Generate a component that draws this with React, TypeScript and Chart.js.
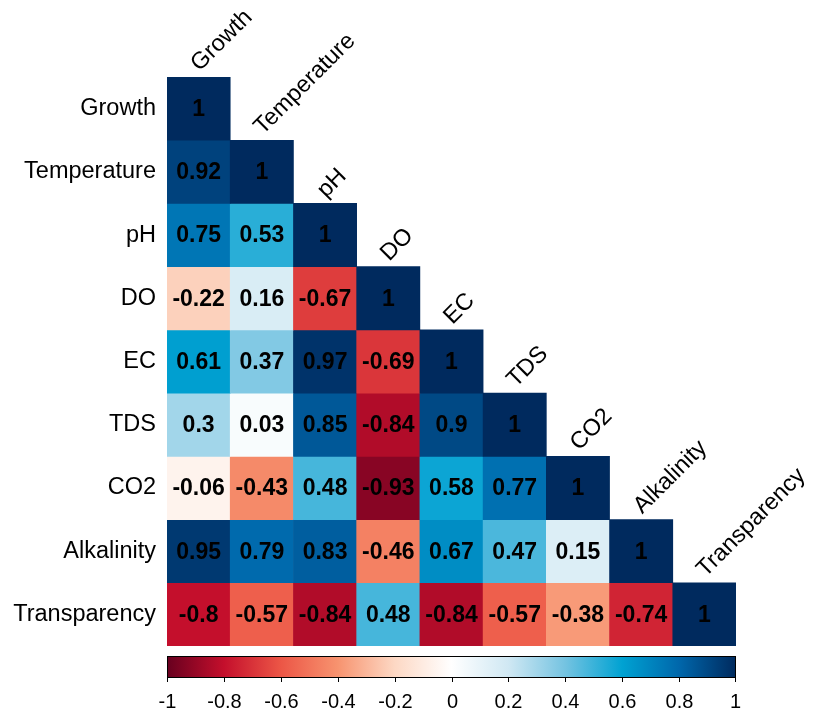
import React, { useEffect, useRef } from "react";
import { Chart, registerables } from "chart.js";

Chart.register(...registerables);

const variables = ["Growth", "Temperature", "pH", "DO", "EC", "TDS", "CO2", "Alkalinity", "Transparency"];

const rowGrowth = [1];
const rowTemperature = [0.92, 1];
const rowPH = [0.75, 0.53, 1];
const rowDO = [-0.22, 0.16, -0.67, 1];
const rowEC = [0.61, 0.37, 0.97, -0.69, 1];
const rowTDS = [0.3, 0.03, 0.85, -0.84, 0.9, 1];
const rowCO2 = [-0.06, -0.43, 0.48, -0.93, 0.58, 0.77, 1];
const rowAlkalinity = [0.95, 0.79, 0.83, -0.46, 0.67, 0.47, 0.15, 1];
const rowTransparency = [-0.8, -0.57, -0.84, 0.48, -0.84, -0.57, -0.38, -0.74, 1];

const corrRows = [rowGrowth, rowTemperature, rowPH, rowDO, rowEC, rowTDS, rowCO2, rowAlkalinity, rowTransparency];

const colorbarTicks = [-1, -0.8, -0.6, -0.4, -0.2, 0, 0.2, 0.4, 0.6, 0.8, 1];

const paletteStops = ["#67001F", "#C40F2C", "#EC5646", "#F7936F", "#FDD8C4", "#FFFFFF", "#D0E8F3", "#74C3E1", "#00A2D2", "#0067AB", "#002A5E"];

function hexToRgb(h: string) {
  const n = parseInt(h.slice(1), 16);
  return [(n >> 16) & 255, (n >> 8) & 255, n & 255];
}

function colorFor(v: number) {
  const t = Math.max(0, Math.min(1, (v + 1) / 2)) * (paletteStops.length - 1);
  const i = Math.min(paletteStops.length - 2, Math.floor(t));
  const f = t - i;
  const a = hexToRgb(paletteStops[i]);
  const b = hexToRgb(paletteStops[i + 1]);
  const c = a.map((x, k) => Math.round(x + (b[k] - x) * f));
  return `rgb(${c[0]},${c[1]},${c[2]})`;
}

const FONT = '"Liberation Sans", Arial, sans-serif';

const labelPlugin = {
  id: "corrLabels",
  afterDatasetsDraw(chart: any) {
    const ctx = chart.ctx;
    const xs = chart.scales.x;
    const ys = chart.scales.y;
    ctx.save();
    // cell values
    ctx.fillStyle = "#000";
    ctx.font = `bold 23px ${FONT}`;
    ctx.textAlign = "center";
    ctx.textBaseline = "middle";
    corrRows.forEach((row, i) => {
      row.forEach((v, j) => {
        const x = xs.getPixelForValue(j);
        const y = ys.getPixelForValue(i + 0.5);
        ctx.fillText(String(v), x, y + 1);
      });
    });
    // row labels
    ctx.font = `23.5px ${FONT}`;
    ctx.textAlign = "right";
    variables.forEach((name, i) => {
      const y = ys.getPixelForValue(i + 0.5);
      ctx.fillText(name, xs.left - 11, y);
    });
    // column labels rotated
    ctx.textAlign = "left";
    ctx.textBaseline = "alphabetic";
    variables.forEach((name, j) => {
      const x = xs.getPixelForValue(j);
      const y = ys.getPixelForValue(j);
      ctx.save();
      ctx.translate(x + 1, y - 5);
      ctx.rotate(-Math.PI / 4);
      ctx.fillText(name, 0, 0);
      ctx.restore();
    });
    // colorbar
    const cbTop = 656;
    const cbBottom = 678;
    const left = xs.left;
    const right = xs.right;
    const toPx = (t: number) => left + ((t + 1) / 2) * (right - left);
    const grad = ctx.createLinearGradient(left, 0, right, 0);
    paletteStops.forEach((c, k) => grad.addColorStop(k / (paletteStops.length - 1), c));
    ctx.fillStyle = grad;
    ctx.fillRect(left, cbTop, right - left, cbBottom - cbTop);
    ctx.strokeStyle = "#000";
    ctx.lineWidth = 1;
    ctx.strokeRect(left + 0.5, cbTop + 0.5, right - left - 1, cbBottom - cbTop - 1);
    ctx.fillStyle = "#000";
    ctx.font = `20px ${FONT}`;
    ctx.textAlign = "center";
    ctx.textBaseline = "middle";
    colorbarTicks.forEach((t) => {
      let x = Math.round(toPx(t)) + 0.5;
      if (t === -1) x = Math.round(left) + 0.5;
      if (t === 1) x = Math.round(right) - 0.5;
      ctx.beginPath();
      ctx.moveTo(x, cbBottom);
      ctx.lineTo(x, cbBottom + 4);
      ctx.stroke();
      ctx.fillText(String(t), x, 702);
    });
    ctx.restore();
  },
};

export default function App() {
  const ref = useRef<HTMLCanvasElement | null>(null);
  useEffect(() => {
    if (!ref.current) return;
    const datasets = corrRows.map((row, i) => ({
      label: variables[i],
      data: variables.map((_, j) => (j < row.length ? [i, i + 1] : null)),
      backgroundColor: variables.map((_, j) => (j < row.length ? colorFor(row[j]) : "rgba(0,0,0,0)")),
      borderWidth: 0,
      barPercentage: 1,
      categoryPercentage: 1,
      grouped: false,
    }));
    const chart = new Chart(ref.current, {
      type: "bar",
      data: { labels: variables, datasets: datasets as any },
      options: {
        animation: false,
        responsive: false,
        maintainAspectRatio: false,
        layout: { padding: { left: 167, top: 77, right: 77, bottom: 67 } },
        plugins: { legend: { display: false }, tooltip: { enabled: false } },
        scales: {
          x: { type: "category", display: false, offset: true, grid: { display: false } },
          y: { type: "linear", display: false, min: 0, max: 9, reverse: true },
        },
      },
      plugins: [labelPlugin],
    });
    return () => chart.destroy();
  }, []);
  return (
    <div style={{ position: "absolute", left: 0, top: 0, width: 813, height: 713, background: "#fff" }}>
      <canvas ref={ref} width={813} height={713} style={{ width: 813, height: 713 }} />
    </div>
  );
}
